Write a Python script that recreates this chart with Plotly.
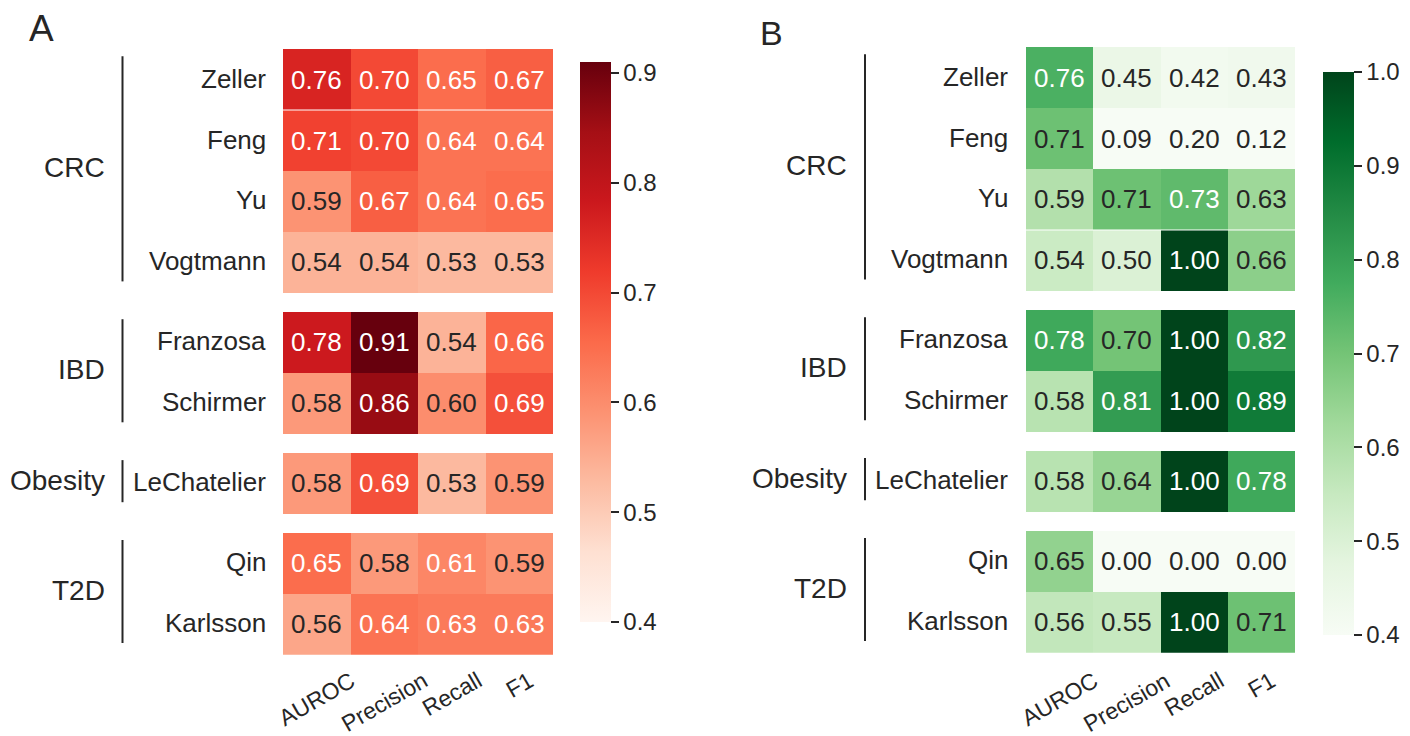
import numpy as np
import plotly.graph_objects as go

W, H = 1410, 736
FONT = "Liberation Sans, Arial, Helvetica, sans-serif"
DARK = "#262626"

# ---------------- data ----------------
groups = ["CRC", "IBD", "Obesity", "T2D"]
group_studies = [
    ["Zeller", "Feng", "Yu", "Vogtmann"],
    ["Franzosa", "Schirmer"],
    ["LeChatelier"],
    ["Qin", "Karlsson"],
]
metrics = ["AUROC", "Precision", "Recall", "F1"]

scores_a = [
    [0.76, 0.70, 0.65, 0.67],
    [0.71, 0.70, 0.64, 0.64],
    [0.59, 0.67, 0.64, 0.65],
    [0.54, 0.54, 0.53, 0.53],
    [0.78, 0.91, 0.54, 0.66],
    [0.58, 0.86, 0.60, 0.69],
    [0.58, 0.69, 0.53, 0.59],
    [0.65, 0.58, 0.61, 0.59],
    [0.56, 0.64, 0.63, 0.63],
]
scores_b = [
    [0.76, 0.45, 0.42, 0.43],
    [0.71, 0.09, 0.20, 0.12],
    [0.59, 0.71, 0.73, 0.63],
    [0.54, 0.50, 1.00, 0.66],
    [0.78, 0.70, 1.00, 0.82],
    [0.58, 0.81, 1.00, 0.89],
    [0.58, 0.64, 1.00, 0.78],
    [0.65, 0.00, 0.00, 0.00],
    [0.56, 0.55, 1.00, 0.71],
]

# ColorBrewer sequential palettes (same as matplotlib Reds / Greens)
reds = ["#fff5f0", "#fee0d2", "#fcbba1", "#fc9272", "#fb6a4a",
        "#ef3b2c", "#cb181d", "#a50f15", "#67000d"]
greens = ["#f7fcf5", "#e5f5e0", "#c7e9c0", "#a1d99b", "#74c476",
          "#41ab5d", "#238b45", "#006d2c", "#00441b"]

GAP = 0.31  # blank space between disease groups, in row units


def hex_rgb(h):
    h = h.lstrip("#")
    return np.array([int(h[i:i + 2], 16) for i in (0, 2, 4)], dtype=float)


def scale_color(palette, t):
    t = min(max(t, 0.0), 1.0) * (len(palette) - 1)
    i = min(int(np.floor(t)), len(palette) - 2)
    f = t - i
    return hex_rgb(palette[i]) * (1 - f) + hex_rgb(palette[i + 1]) * f


def luminance(rgb):
    c = rgb / 255.0
    c = np.where(c <= 0.03928, c / 12.92, ((c + 0.055) / 1.055) ** 2.4)
    return 0.2126 * c[0] + 0.7152 * c[1] + 0.0722 * c[2]


def layout_rows():
    """Row edges with blank bands between groups; returns edges, row centres,
    index of data row per band (None for blank bands) and group spans."""
    edges = [0.0]
    centres, band_rows, spans = [], [], []
    pos, r = 0.0, 0
    for g, studies in enumerate(group_studies):
        if g > 0:
            pos += GAP
            edges.append(pos)
            band_rows.append(None)
        top = pos
        for _ in studies:
            centres.append(pos + 0.5)
            pos += 1.0
            edges.append(pos)
            band_rows.append(r)
            r += 1
        spans.append((top, pos))
    return edges, centres, band_rows, spans


edges, centres, band_rows, spans = layout_rows()
y_total = edges[-1]
studies_flat = [s for grp in group_studies for s in grp]

panels = [
    dict(letter="A", scores=scores_a, palette=reds, zmin=0.4,
         zmax=max(max(r) for r in scores_a), ticks=[0.4, 0.5, 0.6, 0.7, 0.8, 0.9],
         xdom=(283, 553), ydom=(49, 654.7), cbx=580, cbtop=62, cbbot=622,
         label_right=268, group_right=107, line_x=122.5, split_row=1,
         letter_xy=(27, 28), letter_size=37),
    dict(letter="B", scores=scores_b, palette=greens, zmin=0.4,
         zmax=1.0, ticks=[0.4, 0.5, 0.6, 0.7, 0.8, 0.9, 1.0],
         xdom=(1026, 1295), ydom=(47, 652.7), cbx=1323, cbtop=72, cbbot=635,
         label_right=1010, group_right=849, line_x=865, split_row=3,
         letter_xy=(758, 33), letter_size=34),
]

fig = go.Figure()
annotations, shapes = [], []
layout_axes = {}

for k, p in enumerate(panels):
    sfx = "" if k == 0 else str(k + 1)
    xref, yref = "x" + sfx, "y" + sfx
    scores = p["scores"]
    z = [[np.nan] * len(metrics) if b is None else scores[b] for b in band_rows]
    n = len(p["palette"]) - 1
    colorscale = [[i / n, c] for i, c in enumerate(p["palette"])]

    fig.add_trace(go.Heatmap(
        z=z, x=list(range(len(metrics) + 1)), y=edges,
        colorscale=colorscale, zmin=p["zmin"], zmax=p["zmax"],
        xaxis=xref, yaxis=yref, hoverongaps=False,
        colorbar=dict(
            x=p["cbx"] / W, xanchor="left", xpad=0, ypad=0,
            y=1 - p["cbtop"] / H, yanchor="top",
            len=p["cbbot"] - p["cbtop"], lenmode="pixels",
            thickness=31, thicknessmode="pixels", outlinewidth=0,
            ticks="outside", ticklen=8, tickwidth=2, tickcolor=DARK,
            tickvals=p["ticks"], ticktext=[f"{t:.1f}" for t in p["ticks"]],
            tickfont=dict(family=FONT, size=24, color=DARK),
        ),
    ))

    layout_axes["xaxis" + sfx] = dict(
        domain=[p["xdom"][0] / W, p["xdom"][1] / W], range=[0, len(metrics)],
        anchor=yref, showticklabels=False, showgrid=False, zeroline=False,
        ticks="", showline=False, fixedrange=True)
    layout_axes["yaxis" + sfx] = dict(
        domain=[1 - p["ydom"][1] / H, 1 - p["ydom"][0] / H], range=[y_total, 0],
        anchor=xref, showticklabels=False, showgrid=False, zeroline=False,
        ticks="", showline=False, fixedrange=True)

    # cell values
    span = p["zmax"] - p["zmin"]
    for r, yc in enumerate(centres):
        for c in range(len(metrics)):
            v = scores[r][c]
            lum = luminance(scale_color(p["palette"], (v - p["zmin"]) / span))
            annotations.append(dict(
                x=c + 0.5, y=yc, xref=xref, yref=yref, text=f"{v:.2f}",
                showarrow=False, xanchor="center", yanchor="middle",
                font=dict(family=FONT, size=26,
                          color=DARK if lum > 0.395 else "white")))

    # study labels
    for name, yc in zip(studies_flat, centres):
        annotations.append(dict(
            x=p["label_right"] / W, xref="paper", y=yc, yref=yref, yshift=1,
            text=name, showarrow=False, xanchor="right", yanchor="middle",
            font=dict(family=FONT, size=26, color=DARK)))

    # disease groups: label plus vertical bracket line
    for gname, (top, bot) in zip(groups, spans):
        annotations.append(dict(
            x=p["group_right"] / W, xref="paper", y=(top + bot) / 2, yref=yref,
            yshift=3, text=gname, showarrow=False, xanchor="right",
            yanchor="middle", font=dict(family=FONT, size=28, color=DARK)))
        shapes.append(dict(
            type="line", xref="paper", yref=yref,
            x0=p["line_x"] / W, x1=p["line_x"] / W,
            y0=top + 0.12, y1=bot - 0.19,
            line=dict(color=DARK, width=2)))

    # metric labels
    for c, m in enumerate(metrics):
        annotations.append(dict(
            x=c + 0.5, xref=xref, y=1 - 664 / H, yref="paper", text=m,
            showarrow=False, xanchor="center", yanchor="top", textangle=-30,
            font=dict(family=FONT, size=23, color=DARK)))

    # thin white seam between two rows
    shapes.append(dict(
        type="line", xref=xref, yref=yref, x0=0, x1=len(metrics),
        y0=p["split_row"], y1=p["split_row"], line=dict(color="white", width=1)))

    # panel letter
    lx, ly = p["letter_xy"]
    annotations.append(dict(
        x=lx / W, y=1 - ly / H, xref="paper", yref="paper", text=p["letter"],
        showarrow=False, xanchor="left", yanchor="middle",
        font=dict(family=FONT, size=p["letter_size"], color=DARK)))

fig.update_layout(
    width=W, height=H, margin=dict(l=0, r=0, t=0, b=0),
    paper_bgcolor="white", plot_bgcolor="white",
    annotations=annotations, shapes=shapes, showlegend=False,
    **layout_axes,
)

fig.write_html("out.html")
